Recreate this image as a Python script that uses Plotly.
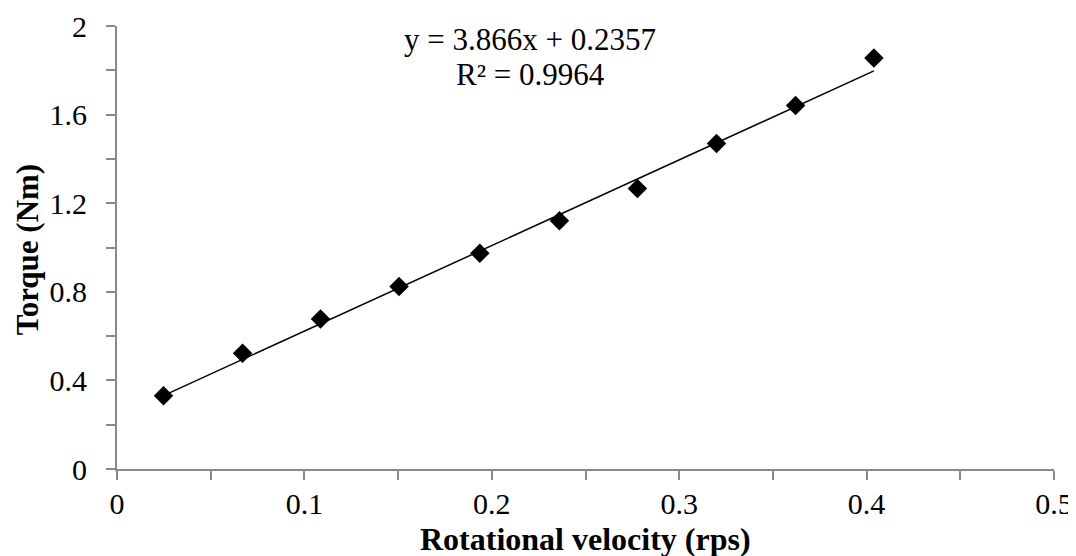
import plotly.graph_objects as go

velocity = [0.0248, 0.0670, 0.1086, 0.1505, 0.1936, 0.2361, 0.2777, 0.3199, 0.3621, 0.4039]
torque = [0.331, 0.523, 0.677, 0.824, 0.974, 1.121, 1.266, 1.469, 1.641, 1.855]

slope = 3.866
intercept = 0.2357
r2 = 0.9964

x_ticks = [0, 0.05, 0.1, 0.15, 0.2, 0.25, 0.3, 0.35, 0.4, 0.45, 0.5]
x_labels = ["0", "", "0.1", "", "0.2", "", "0.3", "", "0.4", "", "0.5"]
y_ticks = [0, 0.2, 0.4, 0.6, 0.8, 1.0, 1.2, 1.4, 1.6, 1.8, 2.0]
y_labels = ["0", "", "0.4", "", "0.8", "", "1.2", "", "1.6", "", "2"]

serif = "Liberation Serif, Times New Roman, serif"

# linear trendline from the fitted equation, over the data span
trend_x = [min(velocity), max(velocity)]
trend_y = [slope * v + intercept for v in trend_x]

fig = go.Figure()
fig.add_trace(go.Scatter(x=trend_x, y=trend_y, mode="lines",
                         line=dict(color="black", width=1.5), hoverinfo="skip"))
fig.add_trace(go.Scatter(x=velocity, y=torque, mode="markers",
                         marker=dict(symbol="diamond", size=15, color="black")))

fig.add_annotation(x=0.2206, y=1.94, xref="x", yref="y", showarrow=False,
                   text=f"y = {slope}x + {intercept}",
                   font=dict(family=serif, size=31, color="black"))
fig.add_annotation(x=0.2206, y=1.78, xref="x", yref="y", showarrow=False,
                   text=f"R² = {r2}",
                   font=dict(family=serif, size=31, color="black"))

# axis titles
fig.add_annotation(x=0.5, y=-0.158, xref="paper", yref="paper", showarrow=False,
                   text="<b>Rotational velocity (rps)</b>", yanchor="middle",
                   font=dict(family=serif, size=32, color="black"))
fig.add_annotation(x=-0.096, y=0.494, xref="paper", yref="paper", showarrow=False,
                   text="<b>Torque (Nm)</b>", textangle=-90, xanchor="center",
                   font=dict(family=serif, size=31, color="black"))

axis_common = dict(showgrid=False, zeroline=False, showline=True, automargin=False,
                   linecolor="#898989", linewidth=2, ticks="outside",
                   ticklen=9, tickwidth=2, tickcolor="#898989",
                   tickfont=dict(family=serif, size=30, color="black"))

fig.update_xaxes(range=[0, 0.5], tickmode="array", tickvals=x_ticks, ticktext=x_labels,
                 ticklabelstandoff=-2, **axis_common)
fig.update_yaxes(range=[0, 2], tickmode="array", tickvals=y_ticks, ticktext=y_labels,
                 ticklabelstandoff=13, **axis_common)

# page body adds an 8px offset, so the figure is 8px smaller than the window
fig.update_layout(width=1068, height=548, showlegend=False,
                  margin=dict(l=109, r=22, t=18, b=87),
                  plot_bgcolor="white", paper_bgcolor="white")

fig.write_html("out.html")
